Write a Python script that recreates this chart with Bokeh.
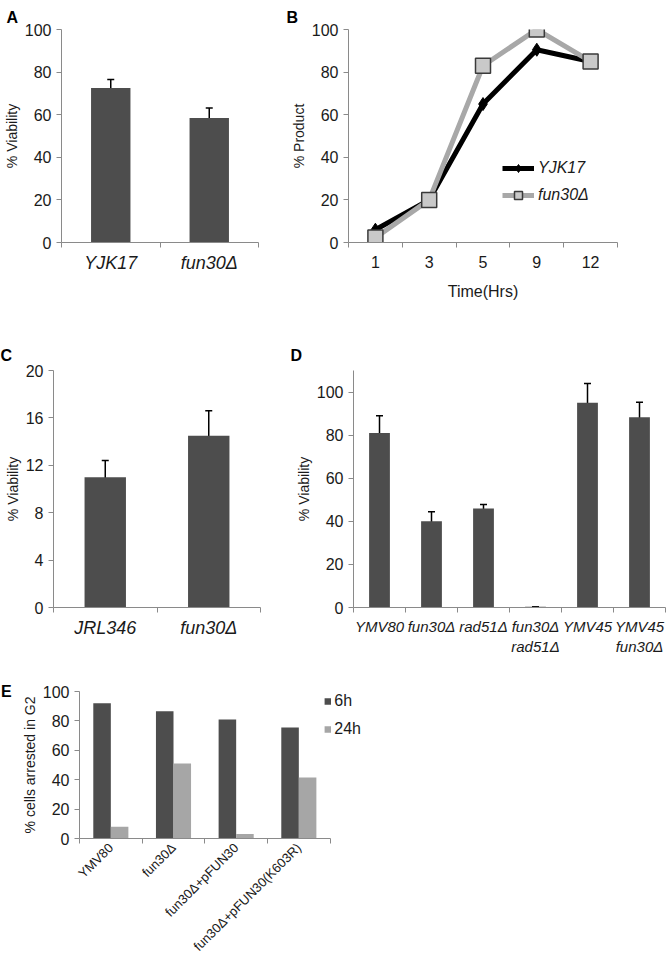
import math
from bokeh.plotting import figure
from bokeh.layouts import column, row
from bokeh.models import (ColumnDataSource, FixedTicker, Whisker, Legend,
                          LegendItem, TeeHead, Div)
from bokeh.transform import dodge
from bokeh.embed import file_html
from bokeh.resources import INLINE

# ---------------- data ----------------
# Panel A
a_strains = ["YJK17", "fun30Δ"]
a_viability = [72.5, 58.5]
a_err = [4.0, 4.7]

# Panel B
b_times = ["1", "3", "5", "9", "12"]
b_yjk17 = [6, 20, 65, 90.5, 85]
b_fun30 = [2.3, 20, 83, 100, 85]

# Panel C
c_strains = ["JRL346", "fun30Δ"]
c_viability = [11.0, 14.5]
c_err = [1.4, 2.1]

# Panel D
d_strains = ["YMV80", "fun30Δ", "rad51Δ", "fun30Δ\nrad51Δ", "YMV45", "YMV45\nfun30Δ"]
d_viability = [81, 40, 46, 0.3, 95, 88.3]
d_err = [8, 4.4, 1.8, 0, 9, 7]

# Panel E
e_strains = ["YMV80", "fun30Δ", "fun30Δ+pFUN30", "fun30Δ+pFUN30(K603R)"]
e_6h = [92, 86.5, 81, 75.5]
e_24h = [8, 51, 3, 41.5]
e_series = ["6h", "24h"]

# ---------------- style ----------------
FONT = "Liberation Sans"
TXT = "#1a1a1a"
AX = "#8a8a8a"
DARK = "#4d4d4d"
LIGHT = "#a6a6a6"


def base_fig(w, h, labels, ymax, yticks, bl, br, bt, bb, ylabel,
             xfont="18px", yfont="16px", italic=True, ylabel_size="14px", xpad=0.0):
    n = len(labels)
    p = figure(width=w, height=h, x_range=(0.5, n + 0.5 + xpad), y_range=(0, ymax),
               output_backend="svg", toolbar_location=None,
               min_border_left=bl, min_border_right=br,
               min_border_top=bt, min_border_bottom=bb)
    p.xgrid.visible = False
    p.ygrid.visible = False
    p.outline_line_color = None
    xa = p.xaxis[0]
    xa.bounds = (0.5, n + 0.5)
    xa.ticker = FixedTicker(ticks=list(range(1, n + 1)),
                            minor_ticks=[i + 0.5 for i in range(n + 1)])
    xa.major_label_overrides = {i + 1: lab for i, lab in enumerate(labels)}
    xa.major_tick_line_color = None
    xa.major_tick_out = 0
    xa.major_tick_in = 0
    xa.minor_tick_line_color = AX
    xa.minor_tick_out = 5
    xa.minor_tick_in = 0
    xa.axis_line_color = AX
    xa.major_label_text_font = FONT
    xa.major_label_text_font_size = xfont
    xa.major_label_text_font_style = "italic" if italic else "normal"
    xa.major_label_text_color = TXT
    xa.major_label_standoff = 5
    ya = p.yaxis[0]
    ya.ticker = FixedTicker(ticks=yticks, minor_ticks=[])
    ya.axis_line_color = AX
    ya.major_tick_line_color = AX
    ya.major_tick_out = 5
    ya.major_tick_in = 0
    ya.minor_tick_line_color = None
    ya.major_label_text_font = FONT
    ya.major_label_text_font_size = yfont
    ya.major_label_text_color = TXT
    ya.major_label_standoff = 5
    ya.axis_label = ylabel
    ya.axis_label_text_font = FONT
    ya.axis_label_text_font_size = ylabel_size
    ya.axis_label_text_font_style = "normal"
    ya.axis_label_text_color = TXT
    ya.axis_label_standoff = 2
    return p


def letter(p, txt, offset, standoff):
    t = p.title
    t.text = txt
    t.align = "left"
    t.offset = offset
    t.text_font = FONT
    t.text_font_size = "16px"
    t.text_font_style = "bold"
    t.text_color = "black"
    t.standoff = standoff


def error_bars(p, src, size=7):
    p.add_layout(Whisker(source=src, base="x", upper="upper", lower="lower",
                         line_color="black", line_width=1.5,
                         upper_head=TeeHead(size=size, line_color="black", line_width=1.5),
                         lower_head=TeeHead(size=size, line_color="black", line_width=1.5)))


def bar_panel(w, h, labels, vals, errs, ymax, yticks, bl, br, bt, bb, ylabel,
              xfont="18px", yfont="16px", cap=7):
    p = base_fig(w, h, labels, ymax, yticks, bl, br, bt, bb, ylabel, xfont, yfont)
    src = ColumnDataSource(dict(
        x=list(range(1, len(labels) + 1)), top=vals,
        upper=[v + e for v, e in zip(vals, errs)],
        lower=[v - e for v, e in zip(vals, errs)]))
    p.vbar(x="x", top="top", width=0.4, source=src, fill_color=DARK, line_color=None)
    error_bars(p, src, cap)
    return p


# ---------------- Panel A ----------------
pA = bar_panel(280, 322, a_strains, a_viability, a_err, 100, [0, 20, 40, 60, 80, 100],
               60, 22, 29, 80, "% Viability")
letter(pA, "A", -55, 8)

# ---------------- Panel B ----------------
pB = base_fig(386, 322, b_times, 100, [0, 20, 40, 60, 80, 100], 68, 49, 29, 80,
              "% Product", xfont="16px", italic=False)
xb = pB.xaxis[0]
xb.major_label_standoff = 8
xb.axis_label = "Time(Hrs)"
xb.axis_label_text_font = FONT
xb.axis_label_text_font_size = "16px"
xb.axis_label_text_font_style = "normal"
xb.axis_label_text_color = TXT
xb.axis_label_standoff = 12
bsrc = ColumnDataSource(dict(x=list(range(1, len(b_times) + 1)), y1=b_yjk17, y2=b_fun30))
l1 = pB.line("x", "y1", source=bsrc, line_color="black", line_width=5)
m1 = pB.scatter("x", "y1", source=bsrc, marker="diamond", size=13,
                fill_color="black", line_color="black")
l2 = pB.line("x", "y2", source=bsrc, line_color="#a8a8a8", line_width=5)
m2 = pB.scatter("x", "y2", source=bsrc, marker="square", size=15,
                fill_color="#c9c9c9", line_color="#3a3a3a", line_width=1.5)
legB = Legend(items=[LegendItem(label="YJK17", renderers=[l1, m1]),
                     LegendItem(label="fun30Δ", renderers=[l2, m2])],
              location=(154, 37), glyph_width=32, glyph_height=20, label_height=20,
              spacing=7, padding=0, margin=0, label_standoff=4,
              border_line_color=None, background_fill_alpha=0,
              label_text_font=FONT, label_text_font_size="16px",
              label_text_font_style="italic", label_text_color=TXT)
pB.add_layout(legB)
letter(pB, "B", -62, 8)

# ---------------- Panel C ----------------
pC = bar_panel(280, 335, c_strains, c_viability, c_err, 20, [0, 4, 8, 12, 16, 20],
               53, 20, 48, 44, "% Viability")
letter(pC, "C", -53, 14)

# ---------------- Panel D ----------------
pD = bar_panel(386, 335, d_strains, d_viability, d_err, 110, [0, 20, 40, 60, 80, 100],
               73, 1, 48, 44, "% Viability", xfont="15px", yfont="16px", cap=7)
letter(pD, "D", -63, 14)

# ---------------- Panel E ----------------
pE = base_fig(408, 305, e_strains, 100, [0, 20, 40, 60, 80, 100], 67, 59, 34, 106,
              "% cells arrested in G2", xfont="13px", italic=False, xpad=0.5)
pE.xaxis[0].major_label_orientation = math.pi / 4
pE.xaxis[0].major_label_standoff = 2
esrc = ColumnDataSource(dict(x=list(range(1, len(e_strains) + 1)), h6=e_6h, h24=e_24h))
r6 = pE.vbar(x=dodge("x", -0.14, range=pE.x_range), top="h6", width=0.28,
             source=esrc, fill_color=DARK, line_color=None)
r24 = pE.vbar(x=dodge("x", 0.14, range=pE.x_range), top="h24", width=0.28,
              source=esrc, fill_color=LIGHT, line_color=None)
legE = Legend(items=[LegendItem(label=e_series[0], renderers=[r6]),
                     LegendItem(label=e_series[1], renderers=[r24])],
              location="top_right", glyph_width=8, glyph_height=8, label_height=20,
              spacing=8, padding=0, margin=0, label_standoff=3,
              border_line_color=None, background_fill_alpha=0,
              label_text_font=FONT, label_text_font_size="16px", label_text_color=TXT)
pE.add_layout(legE)

letterE = Div(text='<div style="font-family:\'Liberation Sans\';font-size:16px;'
                   'font-weight:bold;color:black;line-height:18px;padding-top:26px;'
                   'padding-left:1px">E</div>',
              width=12, height=60, margin=0)

layout = column(row(pA, pB), row(pC, pD), row(letterE, pE))

open("out.html", "w").write(file_html(layout, INLINE))
